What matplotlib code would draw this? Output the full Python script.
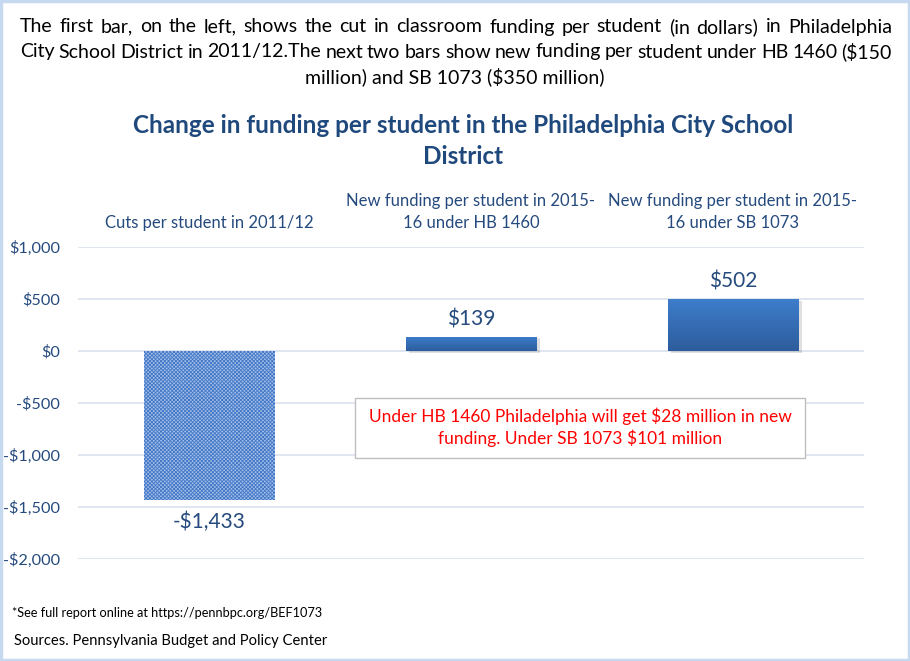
import matplotlib.pyplot as plt
import matplotlib.patches as patches
from matplotlib.colors import LinearSegmentedColormap
import numpy as np

categories = ['Cuts per student in 2011/12',
              'New funding per student in 2015-\n16 under HB 1460',
              'New funding per student in 2015-\n16 under SB 1073']
values = [-1433, 139, 502]
value_labels = ['-$1,433', '$139', '$502']
yticks = [1000, 500, 0, -500, -1000, -1500, -2000]
ytick_labels = ['$1,000', '$500', '$0', '-$500', '-$1,000', '-$1,500', '-$2,000']

intro_lines = ['The first bar, on the left, shows the cut in classroom funding per student (in dollars) in Philadelphia',
               'City School District in 2011/12.The next two bars show new funding per student under HB 1460 ($150',
               'million) and SB 1073 ($350 million)']
title = 'Change in funding per student in the Philadelphia City School\nDistrict'
note = 'Under HB 1460 Philadelphia will get $28 million in new\nfunding. Under SB 1073 $101 million'
footnote = '*See full report online at https://pennbpc.org/BEF1073'
source = 'Sources. Pennsylvania Budget and Policy Center'

plt.rcParams['font.family'] = ['Lato', 'DejaVu Sans']
plt.rcParams['hatch.linewidth'] = 0.6

W, H = 910, 661
fig = plt.figure(figsize=(W / 100, H / 100), dpi=100)
ax = fig.add_axes([78 / W, 1 - 559 / H, (864 - 78) / W, (559 - 247) / H])

label_col = '#254a7d'
x = np.arange(len(values))

for y in yticks:
    ax.axhline(y, color='#d9e2ee', lw=1.2, zorder=0)

bars = ax.bar(x, values, width=0.5, zorder=2)

# first bar: fine checker pattern
bars[0].set_facecolor('#a3bde6')
bars[0].set_hatch('xxxxxxxxx')
bars[0].set_edgecolor('#4178c8')
bars[0].set_linewidth(0)

# other bars: vertical gradient
grad = np.linspace(0, 1, 256).reshape(-1, 1)
cmap = LinearSegmentedColormap.from_list('g', ['#2d5c9c', '#3e7ecc'])
for b in bars[1:]:
    bx, by = b.get_x(), b.get_y()
    bw, bh = b.get_width(), b.get_height()
    b.set_facecolor('none')
    b.set_linewidth(0)
    im = ax.imshow(grad, extent=[bx, bx + bw, by, by + bh], origin='lower',
                   aspect='auto', cmap=cmap, zorder=2)
    im.set_clip_path(b)
    sh = patches.Rectangle((bx + 0.012, by - 18), bw, bh, color='#000000', alpha=0.12, zorder=1.5, lw=0)
    ax.add_patch(sh)
ax.set_xlim(-0.5, 2.5)
ax.set_ylim(-2000, 1000)

for i, (v, t) in enumerate(zip(values, value_labels)):
    if v >= 0:
        ax.text(i, v + 70, t, ha='center', va='bottom', fontsize=15, color=label_col)
    else:
        ax.text(i, v - 110, t, ha='center', va='top', fontsize=15, color=label_col)

ax.set_yticks(yticks)
ax.set_yticklabels(ytick_labels, fontsize=11.7, color=label_col)
ax.tick_params(axis='y', length=0, pad=13)
ax.set_xticks([])
for s in ax.spines.values():
    s.set_visible(False)

for i, c in enumerate(categories):
    ax.text(i, 1150, c, ha='center', va='bottom', fontsize=12, color=label_col,
            linespacing=1.5)

# intro paragraph, justified like the original text box
renderer = fig.canvas.get_renderer()
left, right = 20, 892
line_y = [27, 52, 77]
fs_intro = 14
for k, line in enumerate(intro_lines):
    yf = 1 - line_y[k] / H
    if k == len(intro_lines) - 1:
        fig.text(455 / W, yf, line, ha='center', va='center', fontsize=fs_intro, color='#000000')
        continue
    words = line.split(' ')
    widths = []
    for w in words:
        t = fig.text(0, 0, w, fontsize=fs_intro)
        widths.append(t.get_window_extent(renderer).width)
        t.remove()
    gap = (right - left - sum(widths)) / (len(words) - 1)
    xp = left
    for w, wd in zip(words, widths):
        fig.text(xp / W, yf, w, ha='left', va='center', fontsize=fs_intro, color='#000000')
        xp += wd + gap

fig.text(463 / W, 1 - 141 / H, title, ha='center', va='center', fontsize=17.5,
         fontweight='bold', color='#1f497d', linespacing=1.45)

box = patches.Rectangle((355 / W, 1 - 458 / H), 450 / W, 60 / H, transform=fig.transFigure,
                        facecolor='white', edgecolor='#bfbfbf', lw=1, zorder=5)
fig.patches.append(box)
fig.text(580 / W, 1 - 427 / H, note, ha='center', va='center', fontsize=12.5,
         color='#ff0000', linespacing=1.3, zorder=6)

fig.text(12 / W, 1 - 613 / H, footnote, ha='left', va='center', fontsize=9.2, color='#000000')
fig.text(14 / W, 1 - 641 / H, source, ha='left', va='center', fontsize=10.6, color='#000000')

border = patches.Rectangle((0.001, 0.001), 0.998, 0.997, transform=fig.transFigure,
                           facecolor='none', edgecolor='#c6d9f1', lw=2.5)
fig.patches.append(border)

fig.savefig('out.png', dpi=100)
